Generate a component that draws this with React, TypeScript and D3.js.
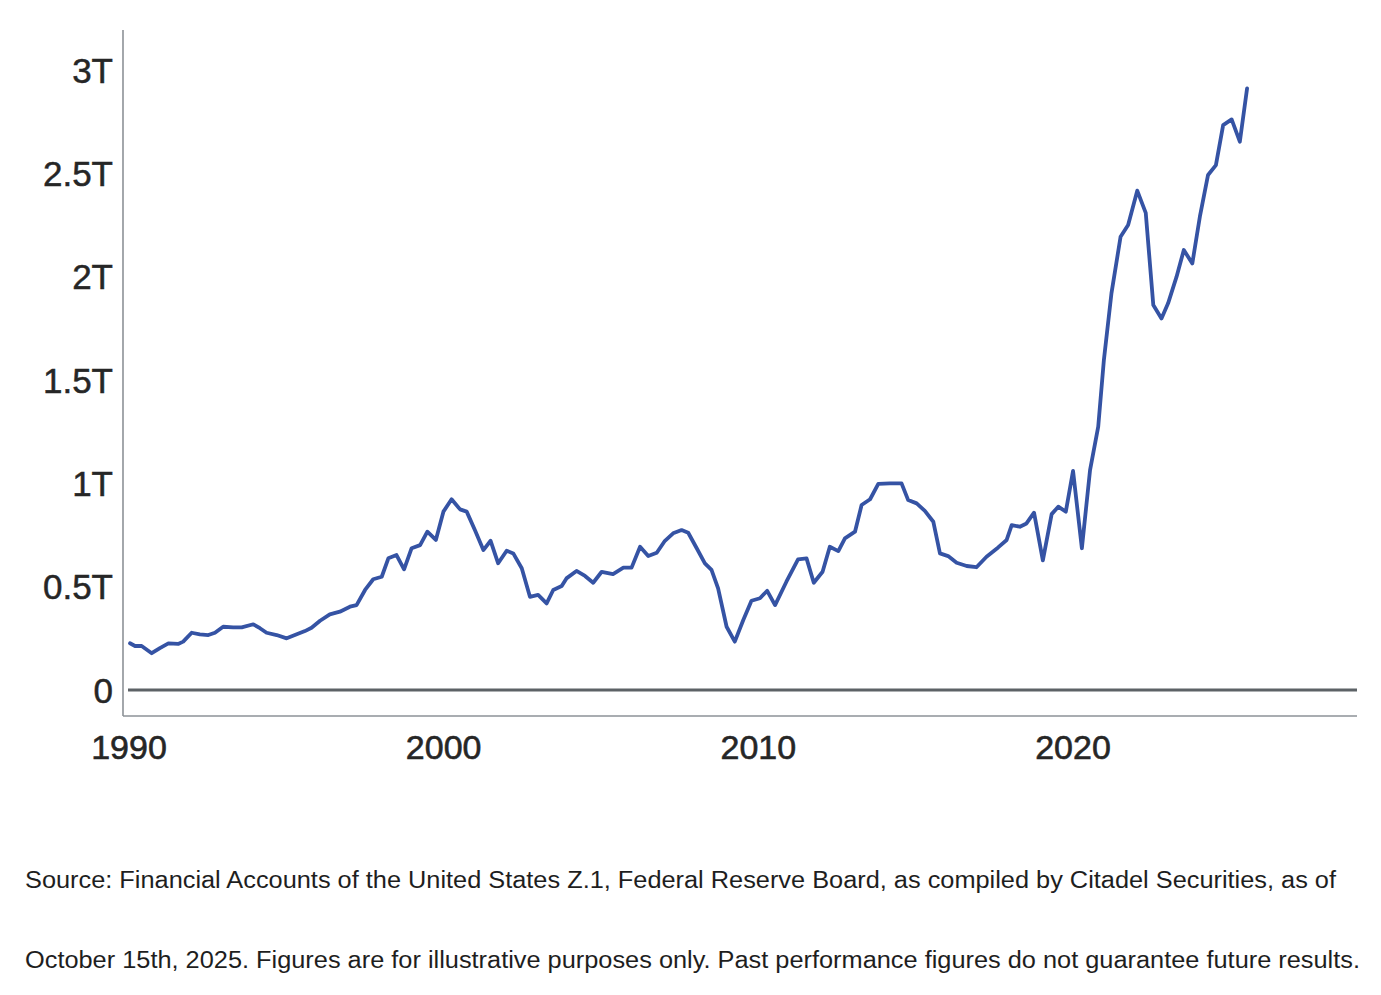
import * as d3 from 'd3';
import { useEffect, useRef } from 'react';

// quarterly readings, fractional year
const years = [
  1990.0, 1990.16, 1990.37, 1990.69, 1990.95, 1991.22, 1991.53, 1991.69, 1991.96, 1992.22,
  1992.49, 1992.7, 1992.96, 1993.28, 1993.55, 1993.92, 1994.13, 1994.34, 1994.66, 1994.98,
  1995.24, 1995.56, 1995.77, 1996.04, 1996.35, 1996.67, 1996.99, 1997.2, 1997.47, 1997.73,
  1998.0, 1998.21, 1998.47, 1998.71, 1998.95, 1999.22, 1999.45, 1999.72, 1999.96, 2000.22,
  2000.49, 2000.7, 2000.96, 2001.23, 2001.46, 2001.7, 2001.97, 2002.18, 2002.45, 2002.71,
  2002.97, 2003.24, 2003.45, 2003.72, 2003.87, 2004.19, 2004.46, 2004.72, 2004.99, 2005.35,
  2005.68, 2005.94, 2006.21, 2006.47, 2006.74, 2007.0, 2007.26, 2007.53, 2007.74, 2008.01,
  2008.27, 2008.48, 2008.69, 2008.96, 2009.22, 2009.49, 2009.75, 2010.02, 2010.25, 2010.5,
  2010.86, 2011.23, 2011.5, 2011.73, 2012.01, 2012.24, 2012.51, 2012.72, 2013.04, 2013.25,
  2013.52, 2013.78, 2014.15, 2014.52, 2014.73, 2015.0, 2015.26, 2015.53, 2015.74, 2016.0,
  2016.27, 2016.59, 2016.9, 2017.22, 2017.59, 2017.86, 2018.02, 2018.28, 2018.49, 2018.73,
  2019.01, 2019.29, 2019.5, 2019.74, 2019.97, 2020.25, 2020.51, 2020.77, 2020.95, 2021.19,
  2021.48, 2021.72, 2022.01, 2022.28, 2022.52, 2022.78, 2022.99, 2023.26, 2023.49, 2023.76,
  2024.0, 2024.26, 2024.51, 2024.74, 2025.01, 2025.27, 2025.5,
];

// trillions of dollars
const valuesT = [
  0.226, 0.213, 0.213, 0.178, 0.203, 0.226, 0.223, 0.234, 0.277, 0.269,
  0.266, 0.277, 0.306, 0.303, 0.303, 0.318, 0.299, 0.277, 0.266, 0.25,
  0.266, 0.285, 0.301, 0.335, 0.366, 0.379, 0.403, 0.411, 0.484, 0.536,
  0.548, 0.637, 0.653, 0.584, 0.686, 0.701, 0.766, 0.726, 0.863, 0.923,
  0.874, 0.863, 0.774, 0.677, 0.722, 0.613, 0.674, 0.661, 0.589, 0.451,
  0.46, 0.419, 0.484, 0.503, 0.54, 0.576, 0.552, 0.519, 0.572, 0.561,
  0.592, 0.592, 0.693, 0.648, 0.664, 0.722, 0.758, 0.774, 0.761, 0.686,
  0.613, 0.581, 0.492, 0.306, 0.234, 0.339, 0.432, 0.444, 0.48, 0.411,
  0.524, 0.632, 0.637, 0.519, 0.572, 0.693, 0.672, 0.734, 0.766, 0.895,
  0.923, 0.997, 1.0, 1.0, 0.919, 0.903, 0.867, 0.814, 0.661, 0.648,
  0.616, 0.6, 0.594, 0.645, 0.69, 0.726, 0.798, 0.79, 0.806, 0.858,
  0.627, 0.851, 0.887, 0.863, 1.06, 0.686, 1.064, 1.274, 1.597, 1.919,
  2.193, 2.25, 2.416, 2.309, 1.863, 1.798, 1.871, 2.0, 2.129, 2.064,
  2.29, 2.492, 2.54, 2.733, 2.761, 2.653, 2.911,
];

const yTicks = [0, 0.5, 1, 1.5, 2, 2.5, 3];
const yTickLabels = ['0', '0.5T', '1T', '1.5T', '2T', '2.5T', '3T'];
const xTicks = [1990, 2000, 2010, 2020];

const captionLines = [
  'Source: Financial Accounts of the United States Z.1, Federal Reserve Board, as compiled by Citadel Securities, as of',
  'October 15th, 2025. Figures are for illustrative purposes only. Past performance figures do not guarantee future results.',
];

const W = 1381;
const H = 995;
const FONT = '"Liberation Sans", Arial, Helvetica, sans-serif';

export default function App() {
  const ref = useRef<SVGSVGElement>(null);

  useEffect(() => {
    if (!ref.current) return;
    const svg = d3.select(ref.current);
    svg.selectAll('*').remove();

    const left = 123, right = 1357, top = 30, bottom = 716;

    const x = d3.scaleLinear().domain([1990, 2020]).range([130, 1074]);
    const y = d3.scaleLinear().domain([0, 3]).range([690, 70]);

    svg.append('rect').attr('width', W).attr('height', H).attr('fill', '#fff');

    // axes frame
    svg.append('line')
      .attr('x1', left).attr('x2', left).attr('y1', top).attr('y2', bottom)
      .attr('stroke', '#8d9297').attr('stroke-width', 1.6);
    svg.append('line')
      .attr('x1', left).attr('x2', right).attr('y1', bottom).attr('y2', bottom)
      .attr('stroke', '#8d9297').attr('stroke-width', 1.6);

    // zero line
    svg.append('line')
      .attr('x1', 128).attr('x2', right).attr('y1', y(0)).attr('y2', y(0))
      .attr('stroke', '#5d6266').attr('stroke-width', 3);

    // y ticks
    yTicks.forEach((t, i) => {
      svg.append('text')
        .text(yTickLabels[i])
        .attr('x', 113)
        .attr('y', y(t) + 12.5)
        .attr('text-anchor', 'end')
        .attr('font-family', FONT)
        .attr('font-size', 35)
        .attr('fill', '#262626')
        .attr('stroke', '#262626')
        .attr('stroke-width', 0.5);
    });

    // x ticks
    xTicks.forEach((t) => {
      svg.append('text')
        .text(String(t))
        .attr('x', x(t) - 1)
        .attr('y', 759)
        .attr('text-anchor', 'middle')
        .attr('font-family', FONT)
        .attr('font-size', 34)
        .attr('fill', '#262626')
        .attr('stroke', '#262626')
        .attr('stroke-width', 0.6);
    });

    // series
    const data = years.map((yr, i) => ({ yr, v: valuesT[i] }));
    const line = d3.line<{ yr: number; v: number }>()
      .x((d) => x(d.yr))
      .y((d) => y(d.v));
    svg.append('path')
      .attr('d', line(data))
      .attr('fill', 'none')
      .attr('stroke', '#3553a4')
      .attr('stroke-width', 3.8)
      .attr('stroke-linejoin', 'round')
      .attr('stroke-linecap', 'round');

    // caption
    const widths = [1311, 1335];
    const baselines = [888, 968];
    captionLines.forEach((s, i) => {
      svg.append('text')
        .text(s)
        .attr('x', 25)
        .attr('y', baselines[i])
        .attr('textLength', widths[i])
        .attr('lengthAdjust', 'spacingAndGlyphs')
        .attr('font-family', FONT)
        .attr('font-size', 23)
        .attr('fill', '#1e1e1e');
    });
  }, []);

  return (
    <svg
      ref={ref}
      width={W}
      height={H}
      style={{ position: 'absolute', left: 0, top: 0, display: 'block' }}
    />
  );
}
